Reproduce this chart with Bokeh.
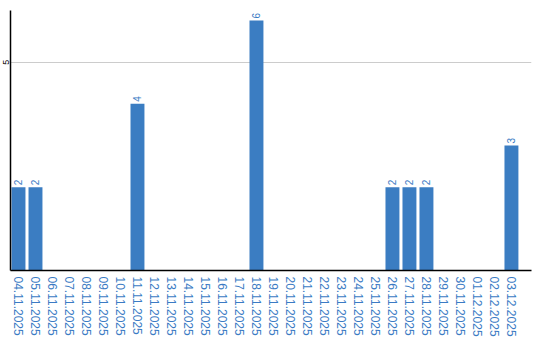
import math
from bokeh.plotting import figure
from bokeh.models import FixedTicker, Range1d, ColumnDataSource
from bokeh.core.properties import value
from bokeh.embed import file_html
from bokeh.resources import INLINE

dates = ["04.11.2025", "05.11.2025", "06.11.2025", "07.11.2025", "08.11.2025",
         "09.11.2025", "10.11.2025", "11.11.2025", "12.11.2025", "13.11.2025",
         "14.11.2025", "15.11.2025", "16.11.2025", "17.11.2025", "18.11.2025",
         "19.11.2025", "20.11.2025", "21.11.2025", "22.11.2025", "23.11.2025",
         "24.11.2025", "25.11.2025", "26.11.2025", "27.11.2025", "28.11.2025",
         "29.11.2025", "30.11.2025", "01.12.2025", "02.12.2025", "03.12.2025"]
counts = [2, 2, 0, 0, 0, 0, 0, 4, 0, 0,
          0, 0, 0, 0, 6, 0, 0, 0, 0, 0,
          0, 0, 2, 2, 2, 0, 0, 0, 0, 3]
y_ticks = [5]

BAR = "#3b7dc2"
LABEL = "#3b7bc4"

xs = list(range(len(dates)))
src = ColumnDataSource(dict(x=xs, y=counts))
lab_x = [x for x, c in zip(xs, counts) if c > 0]
lab_y = [c for c in counts if c > 0]
lab_t = [str(c) for c in lab_y]
lsrc = ColumnDataSource(dict(x=lab_x, y=lab_y, t=lab_t))

p = figure(width=540, height=340, output_backend="svg", toolbar_location=None,
           x_range=Range1d(-0.47, 30.18), y_range=Range1d(0, 6.24),
           min_border_left=10, min_border_right=9, min_border_top=10, min_border_bottom=70)
p.outline_line_color = None
p.background_fill_color = "white"

p.vbar(x="x", top="y", width=0.82, bottom=0, source=src, color=BAR, line_color=None)
p.text(x="x", y="y", text="t", source=lsrc, angle=math.pi / 2, text_align="left",
       text_baseline="middle", y_offset=-2, text_color=LABEL, text_font_size="10px",
       text_font=value("Liberation Sans"))

p.xgrid.visible = False
p.ygrid.grid_line_color = "#cccccc"
p.ygrid.ticker = FixedTicker(ticks=y_ticks)

ya = p.yaxis[0]
ya.ticker = FixedTicker(ticks=y_ticks)
ya.major_label_orientation = "vertical"
ya.major_label_text_font_size = "9px"
ya.major_label_text_color = "black"
ya.major_label_text_font = "Liberation Sans"
ya.major_tick_line_color = None
ya.minor_tick_line_color = None
ya.major_tick_out = 0
ya.major_tick_in = 0
ya.minor_tick_out = 0
ya.major_label_standoff = 1
ya.axis_line_color = "black"
ya.axis_line_width = 1.5

xa = p.xaxis[0]
xa.ticker = FixedTicker(ticks=xs)
xa.major_label_overrides = {i: d for i, d in enumerate(dates)}
xa.major_label_orientation = "vertical"
xa.major_label_text_font_size = "12px"
xa.major_label_text_color = LABEL
xa.major_label_text_font = "Liberation Sans"
xa.major_tick_line_color = None
xa.minor_tick_line_color = None
xa.major_tick_out = 0
xa.major_tick_in = 0
xa.minor_tick_out = 0
xa.major_label_standoff = 6
xa.axis_line_color = "black"
xa.axis_line_width = 1.5

open("out.html", "w").write(file_html(p, INLINE))
